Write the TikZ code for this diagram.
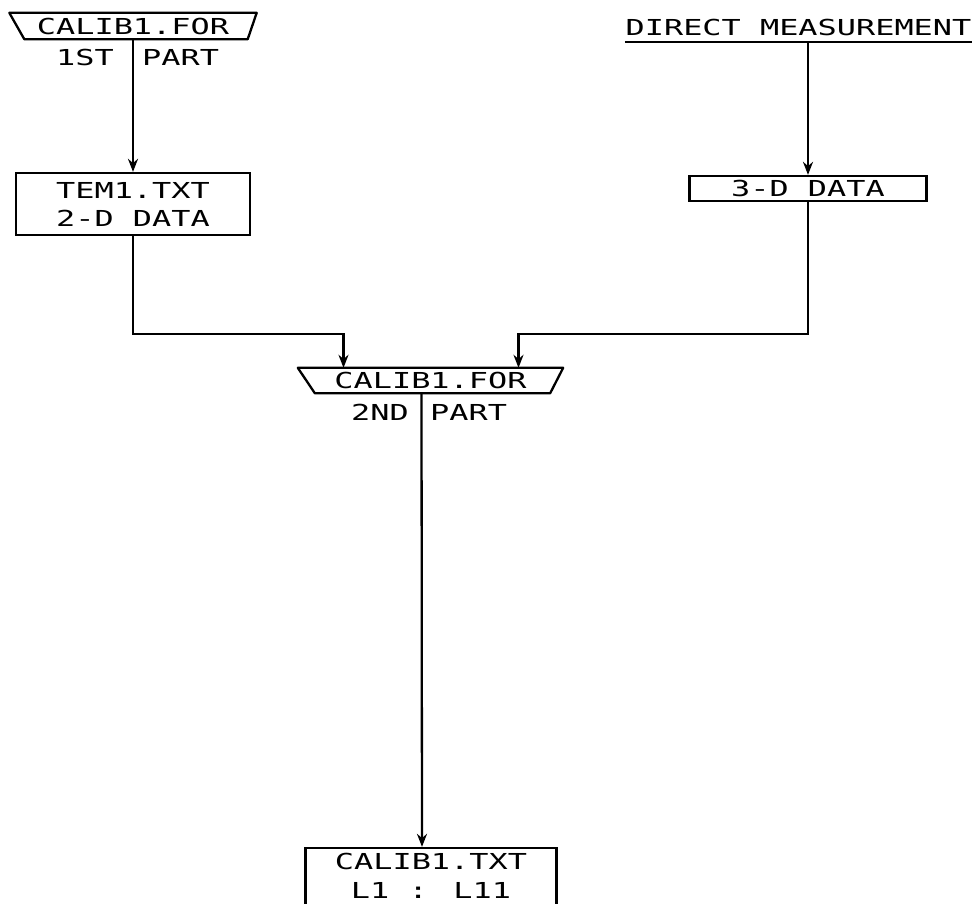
\documentclass[tikz,border=0pt]{standalone}
\usepackage{fontspec}
\newfontfamily\plotfont[FakeStretch=1.45]{DejaVu Sans Mono}
\usetikzlibrary{arrows.meta}
\begin{document}
\begin{tikzpicture}[x=1pt,y=-1pt,
  every node/.style={font=\plotfont\fontsize{22}{28}\selectfont, inner sep=0pt},
  frame/.style={draw, line width=2.3pt},
  conn/.style={line width=2.3pt},
  arr/.style={conn, -{Stealth[length=13pt,width=10pt]}}]
\useasboundingbox (0,0) rectangle (978,904);
% top-left trapezoid
\node[minimum width=247pt, minimum height=26pt] (t1) at (133,26) {CALIB1.FOR};
\draw[frame, line join=round] (t1.north west) -- (t1.north east) -- ([xshift=-9pt]t1.south east) -- ([xshift=15pt]t1.south west) -- cycle;
\node[anchor=east] (p1a) at (114,57) {1ST};
\node[anchor=west] (p1b) at (142,57) {PART};
% TEM1 box
\node[frame, minimum width=234pt, minimum height=62pt, align=center] (b1) at (133,204) {TEM1.TXT\\2-D DATA};
% direct measurement
\node[minimum width=347pt, minimum height=30pt] (dm) at (798.5,27) {DIRECT MEASUREMENT};
\draw[conn] (dm.south west) -- (dm.south east);
% 3-D box
\node[frame, minimum width=237pt, minimum height=25pt] (b2) at (808,188.5) {3-D DATA};
% middle trapezoid
\node[minimum width=265pt, minimum height=25pt] (t2) at (430.5,380.5) {CALIB1.FOR};
\draw[frame, line join=round] (t2.north west) -- (t2.north east) -- ([xshift=-13pt]t2.south east) -- ([xshift=17pt]t2.south west) -- cycle;
\node[anchor=east] (p2a) at (409,412) {2ND};
\node[anchor=west] (p2b) at (430,412) {PART};
% bottom box
\node[frame, minimum width=251pt, minimum height=64pt] (b3) at (431,880) {};
\node (b3a) at (431,861) {CALIB1.TXT};
\node (b3b) at (431,890) {L1 : L11};
% connectors
\draw[arr] (t1.south) -- (b1.north);
\draw[arr] (b1.south) -- ++(0,98) -| ([xshift=-87pt]t2.north);
\draw[arr] (dm.south -| b2.north) -- (b2.north);
\draw[arr] (b2.south) -- ++(0,132) -| ([xshift=88pt]t2.north);
\draw[arr] ([xshift=-9pt]t2.south) -- ([xshift=-9pt]b3.north);
\end{tikzpicture}
\end{document}
